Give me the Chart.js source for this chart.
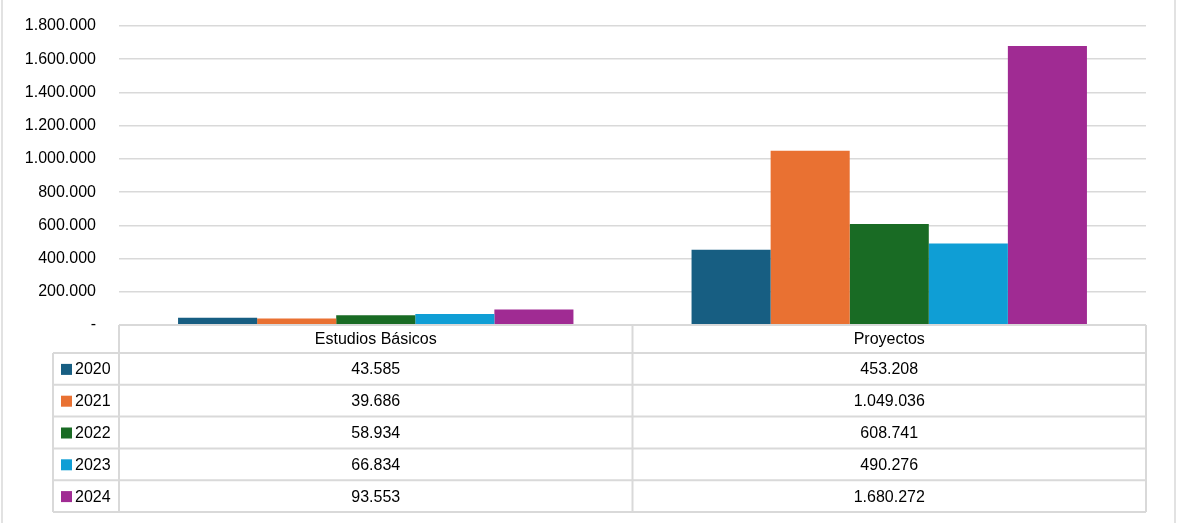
<!DOCTYPE html>
<html>
<head>
<meta charset="utf-8">
<script src="https://cdn.jsdelivr.net/npm/chart.js@4.4.1/dist/chart.umd.min.js"></script>
<style>
  html, body { margin: 0; padding: 0; background: #fff; }
  #wrap { width: 1178px; height: 523px; position: relative; }
</style>
</head>
<body>
<div id="wrap"><canvas id="chart"></canvas></div>
<script>
// chart data
const categories = ["Estudios Básicos", "Proyectos"];
const years = ["2020", "2021", "2022", "2023", "2024"];
const values2020 = [43585, 453208];
const values2021 = [39686, 1049036];
const values2022 = [58934, 608741];
const values2023 = [66834, 490276];
const values2024 = [93553, 1680272];
const yearColors = ["#175E82", "#E97132", "#196B24", "#0F9ED5", "#A02B93"];

const allValues = [values2020, values2021, values2022, values2023, values2024];
const FONT = "'Liberation Sans', Arial, sans-serif";
const FONT_SIZE = 16;
const GRID = "#d9d9d9";

const fmt = (v) => (v === 0 ? "-" : String(v).replace(/\B(?=(\d{3})+(?!\d))/g, "."));

// draws the data table under the plot, Excel style
const dataTable = {
  id: "dataTable",
  afterDraw(chart) {
    const ctx = chart.ctx;
    const area = chart.chartArea;
    const mid = (area.left + area.right) / 2;
    const top = area.bottom;
    const headerH = 28;
    const rowH = 31.8;
    const legendLeft = 53;
    const tableBottom = top + headerH + rowH * years.length;

    ctx.save();
    ctx.strokeStyle = GRID;
    ctx.lineWidth = 2;

    const line = (x1, y1, x2, y2) => {
      ctx.beginPath();
      ctx.moveTo(x1, y1);
      ctx.lineTo(x2, y2);
      ctx.stroke();
    };
    // horizontal lines
    line(area.left, top, area.right, top);
    for (let i = 0; i <= years.length; i++) {
      const y = top + headerH + rowH * i;
      line(legendLeft, y, area.right, y);
    }
    // vertical lines
    line(legendLeft, top + headerH, legendLeft, tableBottom);
    line(area.left, top, area.left, tableBottom);
    line(mid, top, mid, tableBottom);
    line(area.right, top, area.right, tableBottom);

    // side edges of the chart box
    ctx.lineWidth = 1.5;
    line(2, 0, 2, chart.height);
    line(chart.width - 3, 0, chart.width - 3, chart.height);

    ctx.fillStyle = "#000";
    ctx.font = FONT_SIZE + "px " + FONT;
    ctx.textBaseline = "middle";
    ctx.textAlign = "center";
    const cols = [(area.left + mid) / 2, (mid + area.right) / 2];
    categories.forEach((c, i) => ctx.fillText(c, cols[i], top + headerH / 2 + 1));

    years.forEach((yr, r) => {
      const cy = top + headerH + rowH * r + rowH / 2 + 1;
      ctx.fillStyle = yearColors[r];
      ctx.fillRect(61, cy - 6, 11, 11);
      ctx.fillStyle = "#000";
      ctx.textAlign = "left";
      ctx.fillText(yr, 75, cy);
      ctx.textAlign = "center";
      allValues[r].forEach((v, i) => ctx.fillText(fmt(v), cols[i], cy));
    });
    ctx.restore();
  }
};

new Chart(document.getElementById("chart"), {
  type: "bar",
  data: {
    labels: categories,
    datasets: years.map((yr, i) => ({
      label: yr,
      data: allValues[i],
      backgroundColor: yearColors[i],
      borderWidth: 0,
      barPercentage: 1,
      categoryPercentage: 0.77,
    })),
  },
  options: {
    responsive: true,
    maintainAspectRatio: false,
    animation: false,
    layout: { padding: { left: 0, right: 32, top: 26, bottom: 198 } },
    plugins: {
      legend: { display: false },
      tooltip: { enabled: false },
    },
    scales: {
      x: {
        ticks: { display: false },
        grid: { display: false },
        border: { display: false },
        afterFit: (scale) => { scale.height = 0; },
      },
      y: {
        min: 0,
        max: 1800000,
        afterFit: (scale) => {
          scale.width = 119;
          scale.paddingTop = 0;
          scale.paddingBottom = 0;
        },
        ticks: {
          stepSize: 200000,
          padding: 23,
          color: "#000",
          font: { family: FONT, size: FONT_SIZE },
          callback: (v) => fmt(v),
        },
        grid: { color: GRID, lineWidth: 1.5, drawTicks: false },
        border: { display: false },
      },
    },
  },
  plugins: [dataTable],
});
</script>
</body>
</html>
